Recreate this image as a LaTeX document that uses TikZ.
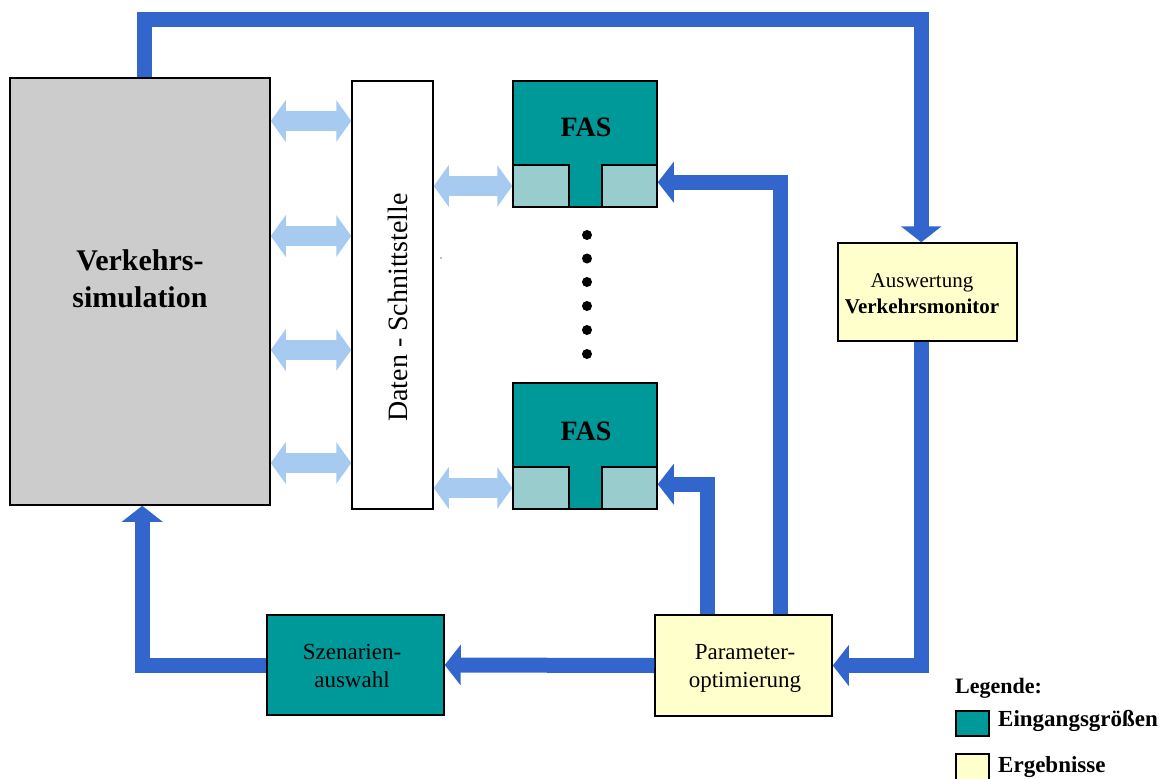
\documentclass[tikz,border=0pt]{standalone}
\usepackage{fontspec}
\setmainfont{Liberation Serif}
\usetikzlibrary{arrows.meta,calc}
\definecolor{teal1}{HTML}{009999}
\definecolor{teal2}{HTML}{99CCCC}
\definecolor{yell}{HTML}{FFFFCC}
\definecolor{grey1}{HTML}{CCCCCC}
\definecolor{blue1}{HTML}{3366CC}
\definecolor{lblue}{HTML}{A6CAF0}
\tikzset{
  box/.style={draw=black,line width=1.5pt,inner sep=0pt,rectangle},
  flow/.style={draw=blue1,line width=15pt,line join=miter,-{Triangle[width=40pt,length=16pt]}},
  link/.style={draw=lblue,line width=20pt,{Triangle[width=41pt,length=15pt]}-{Triangle[width=41pt,length=15pt]}},
  txt/.style={inner sep=0pt,align=center},
  pdot/.style={fill=black,draw=none,circle,minimum size=10pt,inner sep=0pt}
}
\begin{document}
\begin{tikzpicture}[x=1pt,y=-1pt]
\useasboundingbox (0,0) rectangle (1163,779);
% boxes
\node[box,fill=grey1,minimum width=260pt,minimum height=427pt] (vs) at (140,291.5) {};
\node[txt,font=\fontsize{30}{37}\selectfont\bfseries] (vst) at ($(vs.center)+(0,-13)$) {Verkehrs-\\simulation};
\node[box,fill=white,minimum width=81pt,minimum height=428pt] (sch) at (392.5,295) {};
\node[txt,rotate=90,font=\fontsize{28}{32}\selectfont] (scht) at (398,307.5) {Daten - Schnittstelle};
\fill[gray] (441,258) circle (0.8pt);
% FAS 1
\node[box,fill=teal1,minimum width=144pt,minimum height=126pt] (fas1) at (585,144) {};
\node[box,fill=teal2,minimum width=56pt,minimum height=42pt,anchor=south west] (fas1l) at (fas1.south west) {};
\node[box,fill=teal2,minimum width=55pt,minimum height=42pt,anchor=south east] (fas1r) at (fas1.south east) {};
\node[txt,font=\fontsize{28}{32}\selectfont\bfseries] (fas1t) at ($(fas1.north)+(1,47)$) {FAS};
% FAS 2
\node[box,fill=teal1,minimum width=144pt,minimum height=126pt] (fas2) at (585,446) {};
\node[box,fill=teal2,minimum width=56pt,minimum height=42pt,anchor=south west] (fas2l) at (fas2.south west) {};
\node[box,fill=teal2,minimum width=55pt,minimum height=42pt,anchor=south east] (fas2r) at (fas2.south east) {};
\node[txt,font=\fontsize{28}{32}\selectfont\bfseries] (fas2t) at ($(fas2.north)+(1,49)$) {FAS};
% dots
\node[pdot] (d1) at (587,235) {};
\node[pdot] (d2) at (587,258.5) {};
\node[pdot] (d3) at (587,282) {};
\node[pdot] (d4) at (587,306) {};
\node[pdot] (d5) at (587,330) {};
\node[pdot] (d6) at (587,354) {};
% Auswertung
\node[box,fill=yell,minimum width=179pt,minimum height=98pt] (aw) at (927.5,292) {};
\node[txt,font=\fontsize{21}{26}\selectfont] (awt) at (922,294) {Auswertung\\\textbf{Verkehrsmonitor}};
% Parameteroptimierung
\node[box,fill=yell,minimum width=177pt,minimum height=101pt] (po) at (743.5,665.5) {};
\node[txt,font=\fontsize{23}{28}\selectfont] (pot) at (745,668) {Parameter-\\optimierung};
% Szenarienauswahl
\node[box,fill=teal1,minimum width=177pt,minimum height=100pt] (sz) at (355.5,665) {};
\node[txt,font=\fontsize{23}{28}\selectfont] (szt) at (352,666) {Szenarien-\\auswahl};
% light links
\coordinate (r1) at (0,121);
\coordinate (r2) at (0,236);
\coordinate (r3) at (0,350);
\coordinate (r4) at (0,463);
\draw[link] (vs.east |- r1) -- (sch.west |- r1);
\draw[link] (vs.east |- r2) -- (sch.west |- r2);
\draw[link] (vs.east |- r3) -- (sch.west |- r3);
\draw[link] (vs.east |- r4) -- (sch.west |- r4);
\draw[link] (sch.east |- fas1l.west) -- (fas1l.west);
\draw[link] (sch.east |- fas2l.west) -- (fas2l.west);
% blue flows
\draw[flow] ($(vs.north west)+(135,0)$) -- ++(0,-58) -| ($(aw.north west)+(84,0)$);
\draw[flow] ($(aw.south west)+(84,0)$) |- (po.east);
\draw[flow] ($(po.north west)+(126,0)$) |- ($(fas1.north east)+(0,102)$);
\draw[flow] ($(po.north west)+(53,0)$) |- ($(fas2.north east)+(0,102)$);
\draw[flow] (po.west) -- (sz.east);
\draw[flow] (sz.west) -| ($(vs.south west)+(133,0)$);
% legend
\node[txt,anchor=west,font=\fontsize{22}{26}\selectfont\bfseries] (lg) at (955,688) {Legende:};
\node[box,fill=teal1,minimum width=33pt,minimum height=25pt,anchor=north west] (lg1) at (955,710) {};
\node[txt,anchor=west,font=\fontsize{23}{26}\selectfont\bfseries] (lg1t) at (998,721) {Eingangsgrößen};
\node[box,fill=yell,minimum width=33pt,minimum height=30pt,anchor=north west] (lg2) at (955,753) {};
\node[txt,anchor=west,font=\fontsize{23}{26}\selectfont\bfseries] (lg2t) at (998,767) {Ergebnisse};
\end{tikzpicture}
\end{document}
